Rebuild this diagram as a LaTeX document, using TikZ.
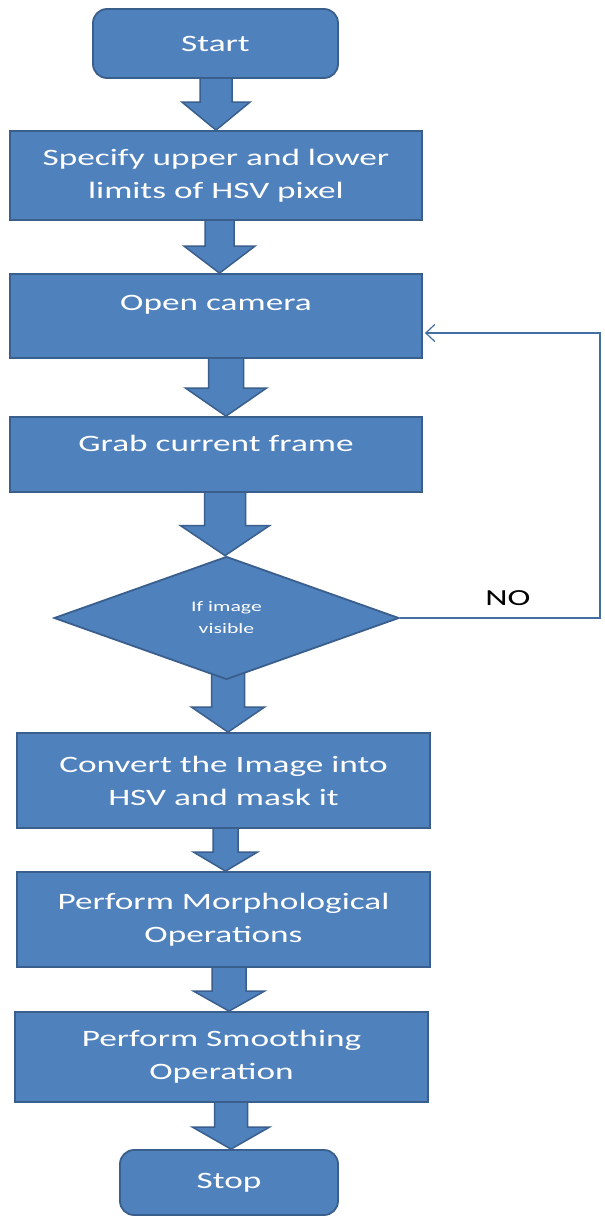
\documentclass[tikz,border=0pt]{standalone}
\usepackage{fontspec}
\setmainfont{Carlito}[FakeStretch=1.5]
\usetikzlibrary{calc,arrows.meta,shapes.geometric,backgrounds}
\pgfdeclarelayer{bottom}
\pgfsetlayers{bottom,background,main}
\definecolor{boxblue}{HTML}{4F81BD}
\definecolor{boxedge}{HTML}{3A5F8C}
\newcommand{\blockarr}[6]{%
  \coordinate (bx) at (#3,0);
  \coordinate (bA) at (bx |- #1.south);
  \coordinate (bB) at (bx |- #2.north);
  \draw[blockarrow] ($(bA)+(-#4,-14)$) -- ($(bB)+(-#4,-#6)$) -- ($(bB)+(-#5,-#6)$) -- (bB)
     -- ($(bB)+(#5,-#6)$) -- ($(bB)+(#4,-#6)$) -- ($(bA)+(#4,-14)$) -- cycle;
}
\begin{document}
\begin{tikzpicture}[x=1pt,y=-1pt,
  procbox/.style={rectangle,draw=boxedge,line width=1.8pt,fill=boxblue,text=white,
     align=center,font=\fontsize{23.5}{33}\selectfont,inner sep=0pt},
  termbox/.style={procbox,rounded corners=14pt},
  decbox/.style={diamond,draw=boxedge,line width=1.8pt,fill=boxblue,text=white,
     align=center,font=\fontsize{14.5}{22}\selectfont,inner sep=0pt,
     minimum width=345pt,minimum height=123pt},
  blockarrow/.style={draw=boxedge,line width=1.5pt,fill=boxblue,line join=miter},
  loopline/.style={draw=boxblue!85!black,line width=1.2pt,
     -{Straight Barb[length=9pt,width=17pt]},shorten >=2pt},
  nolabel/.style={text=black,font=\fontsize{23}{28}\selectfont,inner sep=0pt}]
\begin{pgfonlayer}{bottom}
\fill[white] (0,0) rectangle (605,1216);
\end{pgfonlayer}
\useasboundingbox (0,0) rectangle (605,1216);

\node[termbox,minimum width=245pt,minimum height=69pt] (start) at (215.5,43.5) {Start};
\node[procbox,minimum width=412pt,minimum height=89pt] (spec) at (216,175.5)
  {Specify upper and lower\\limits of HSV pixel};
\node[procbox,minimum width=412pt,minimum height=84pt] (open) at (216,316)
  {Open camera\\[-7pt]\mbox{}};
\node[procbox,minimum width=412pt,minimum height=75pt] (grab) at (216,454.5)
  {Grab current frame\\[-10pt]\mbox{}};
\node[decbox] (dia) at (226.5,618) {If image\\visible};
\node[procbox,minimum width=413pt,minimum height=95pt] (conv) at (223.5,780.5)
  {Convert the Image into\\HSV and mask it};
\node[procbox,minimum width=413pt,minimum height=95pt] (morph) at (223.5,919.5)
  {Perform Morphological\\Operations};
\node[procbox,minimum width=413pt,minimum height=90pt] (smooth) at (221.5,1057)
  {Perform Smoothing\\Operation};
\node[termbox,minimum width=218pt,minimum height=65pt] (stop) at (229,1182.5) {Stop};
\node[nolabel] (no) at (508,598) {NO};

\begin{pgfonlayer}{background}
\blockarr{start}{spec}{216}{16}{34}{28}
\blockarr{spec}{open}{219.5}{14.5}{35.5}{27}
\blockarr{open}{grab}{226}{17.5}{40.5}{28}
\blockarr{grab}{dia}{225}{20.5}{44.5}{30}
\blockarr{dia}{conv}{228}{16.5}{36.5}{25}
\blockarr{conv}{morph}{225.5}{12.5}{32}{19}
\blockarr{morph}{smooth}{229}{17}{35.5}{20}
\blockarr{smooth}{stop}{231}{16.5}{38.5}{22}
\end{pgfonlayer}

\coordinate (rx) at (600,0);
\draw[loopline] (dia.east) -- (dia.east -| rx) |- ($(open.east)+(0,17)$);
\end{tikzpicture}
\end{document}
